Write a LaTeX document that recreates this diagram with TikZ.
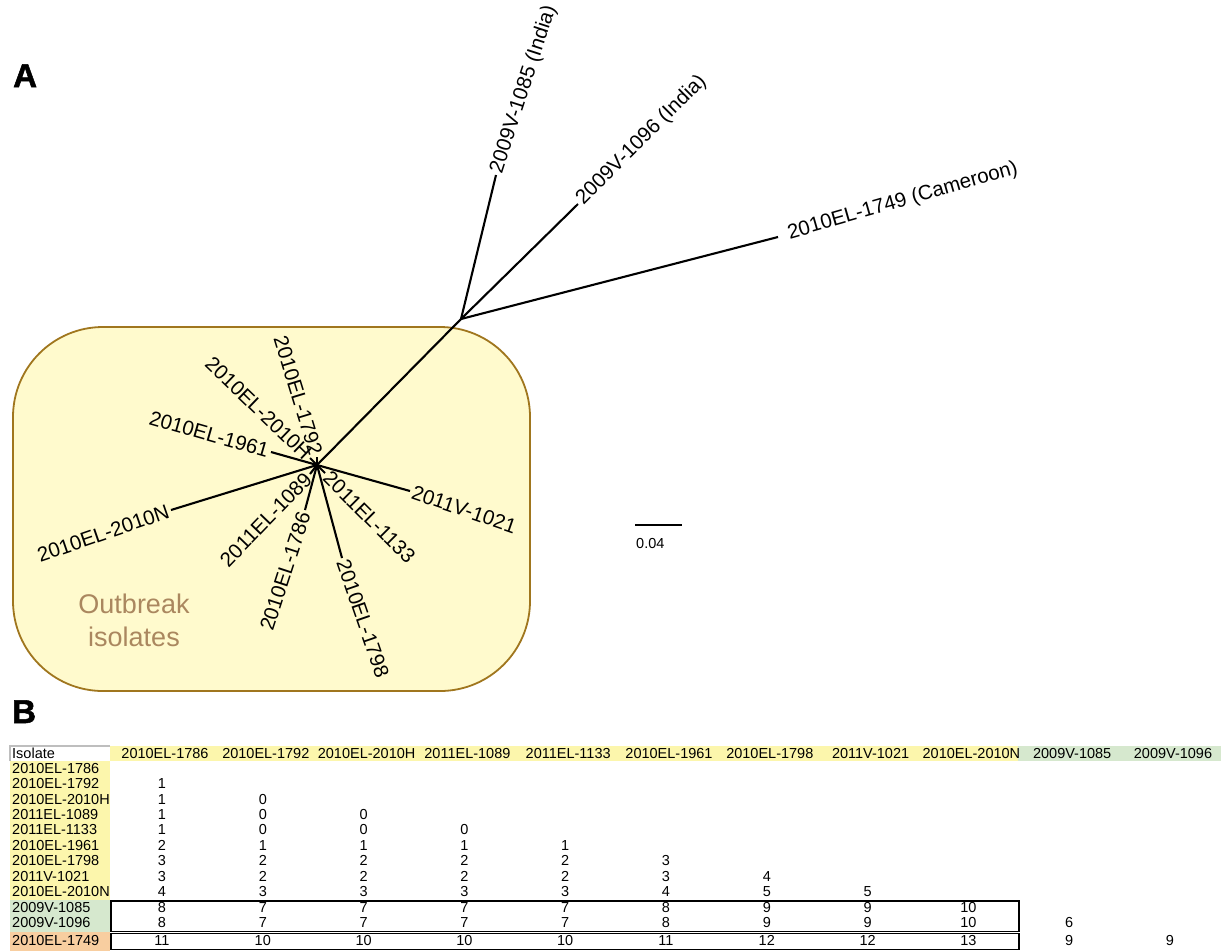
\documentclass[tikz,border=0pt]{standalone}
\usepackage{fontspec}
\setmainfont{Liberation Sans}
\newfontfamily\heavyfont[FakeBold=1.6]{Liberation Sans Bold}
\definecolor{boxfill}{RGB}{255,250,205}
\definecolor{boxbrown}{RGB}{160,118,30}
\definecolor{outbrown}{RGB}{170,135,95}
\definecolor{cellyellow}{RGB}{252,246,172}
\definecolor{cellgreen}{RGB}{214,232,206}
\definecolor{cellorange}{RGB}{248,206,160}
\definecolor{cellgray}{RGB}{190,190,190}
\begin{document}
\begin{tikzpicture}[x=1pt,y=-1pt,
  lbl/.style={font=\fontsize{20.5}{21}\selectfont, inner sep=2.5pt},
  br/.style={line width=2.1pt, black},
  tb/.style={font=\fontsize{14.5}{15}\selectfont, inner sep=0pt, anchor=base},
  panel/.style={font=\fontsize{33}{33}\selectfont\heavyfont, anchor=base west, inner sep=0pt},
  frame/.style={draw=black, line width=1.8pt},
]
\useasboundingbox (0,0) rectangle (1222,951);

% ---------- panel labels ----------
\node[panel] (pA) at (13,87) {A};
\node[panel] (pB) at (12,723) {B};

% ---------- outbreak box ----------
\draw[draw=boxbrown, fill=boxfill, line width=1.8pt, rounded corners=90pt] (13,327) rectangle (530,691);
\node[font=\fontsize{27}{33}\selectfont, text=outbrown, align=center, inner sep=0pt] (ob) at (134,620.5) {Outbreak\\isolates};

% ---------- tree ----------
\coordinate (h1) at (461,319);
\coordinate (h2) at (317,465);
\draw[br] (h1) -- (h2);

\coordinate (e1085) at (496,175);
\coordinate (e1096) at (578,204);
\coordinate (e1749) at (778,237);
\draw[br] (h1) -- (e1085);
\draw[br] (h1) -- (e1096);
\draw[br] (h1) -- (e1749);
\node[lbl, anchor=west, rotate=72] (n1085) at (e1085) {2009V-1085 (India)};
\node[lbl, anchor=west, rotate=45] (n1096) at (e1096) {2009V-1096 (India)};
\node[lbl, anchor=west, rotate=16, xshift=8pt] (n1749) at (e1749) {2010EL-1749 (Cameroon)};

\coordinate (e1961) at (271,452);
\coordinate (e2010H) at (310,458);
\coordinate (e1792) at (317,457);
\coordinate (e1021) at (410,491);
\coordinate (e1133) at (325,473);
\coordinate (e1798) at (342,558);
\coordinate (e1786) at (305,510);
\coordinate (e1089) at (310,474);
\coordinate (e2010N) at (171,510);
\foreach \e in {e1961,e2010H,e1792,e1021,e1133,e1798,e1786,e1089,e2010N}
  \draw[br] (h2) -- (\e);

\node[lbl, anchor=east, rotate=-16] (n1961) at (e1961) {2010EL-1961};
\node[lbl, anchor=east, rotate=-44] (n2010H) at (e2010H) {2010EL-2010H};
\node[lbl, anchor=east, rotate=-73] (n1792) at (e1792) {2010EL-1792};
\node[lbl, anchor=west, rotate=-19] (n1021) at (e1021) {2011V-1021};
\node[lbl, anchor=west, rotate=-45] (n1133) at (e1133) {2011EL-1133};
\node[lbl, anchor=west, rotate=-71] (n1798) at (e1798) {2010EL-1798};
\node[lbl, anchor=east, rotate=72] (n1786) at (e1786) {2010EL-1786};
\node[lbl, anchor=east, rotate=46] (n1089) at (e1089) {2011EL-1089};
\node[lbl, anchor=east, rotate=19] (n2010N) at (e2010N) {2010EL-2010N};

% ---------- scale bar ----------
\coordinate (s1) at (635,525);
\coordinate (s2) at (682,525);
\draw[line width=2pt] (s1) -- (s2);
\node[font=\fontsize{14.5}{15}\selectfont, anchor=base west, inner sep=0pt] (sc) at (636,548) {0.04};

% ---------- table backgrounds ----------
\fill[cellyellow] (110,746) rectangle (1018,761);
\fill[cellgreen] (1018,746) rectangle (1221,761);
\fill[cellyellow] (10,761) rectangle (110,900);
\fill[cellgreen] (10,900) rectangle (110,932);
\fill[cellorange] (10,932) rectangle (110,951);
\draw[cellgray, line width=1.2pt] (10,761) -- (10,746) -- (110,746);

% header
\node[tb, anchor=base west] (hIso) at (12,758) {Isolate};
\foreach \t [count=\i] in {2010EL-1786,2010EL-1792,2010EL-2010H,2011EL-1089,2011EL-1133,2010EL-1961,2010EL-1798,2011V-1021,2010EL-2010N,2009V-1085,2009V-1096}
  \node[tb] (hc\i) at ({165+100.8*(\i-1)},758) {\t};

% row labels
\foreach \t/\y [count=\j] in {2010EL-1786/768,2010EL-1792/783,2010EL-2010H/799,2011EL-1089/814.5,2011EL-1133/829.5,2010EL-1961/845,2010EL-1798/860.5,2011V-1021/876,2010EL-2010N/891.5,2009V-1085/907,2009V-1096/922.5,2010EL-1749/940}
  \node[tb, anchor=base west] (rl\j) at (12,\y+5.2) {\t};

% values
\foreach \y/\vals [count=\j] in {783/{1},799/{1,0},814.5/{1,0,0},829.5/{1,0,0,0},845/{2,1,1,1,1},860.5/{3,2,2,2,2,3},876/{3,2,2,2,2,3,4},891.5/{4,3,3,3,3,4,5,5},907/{8,7,7,7,7,8,9,9,10},922.5/{8,7,7,7,7,8,9,9,10,6},940/{11,10,10,10,10,11,12,12,13,9,9}}
  \foreach \v [count=\i] in \vals
    \node[tb] (v\j-\i) at ({162+100.8*(\i-1)},\y+5.2) {\v};

% frames
\draw[frame] (111,901) rectangle (1019,931.5);
\draw[frame] (111,933.5) rectangle (1019,949.5);
\end{tikzpicture}
\end{document}
